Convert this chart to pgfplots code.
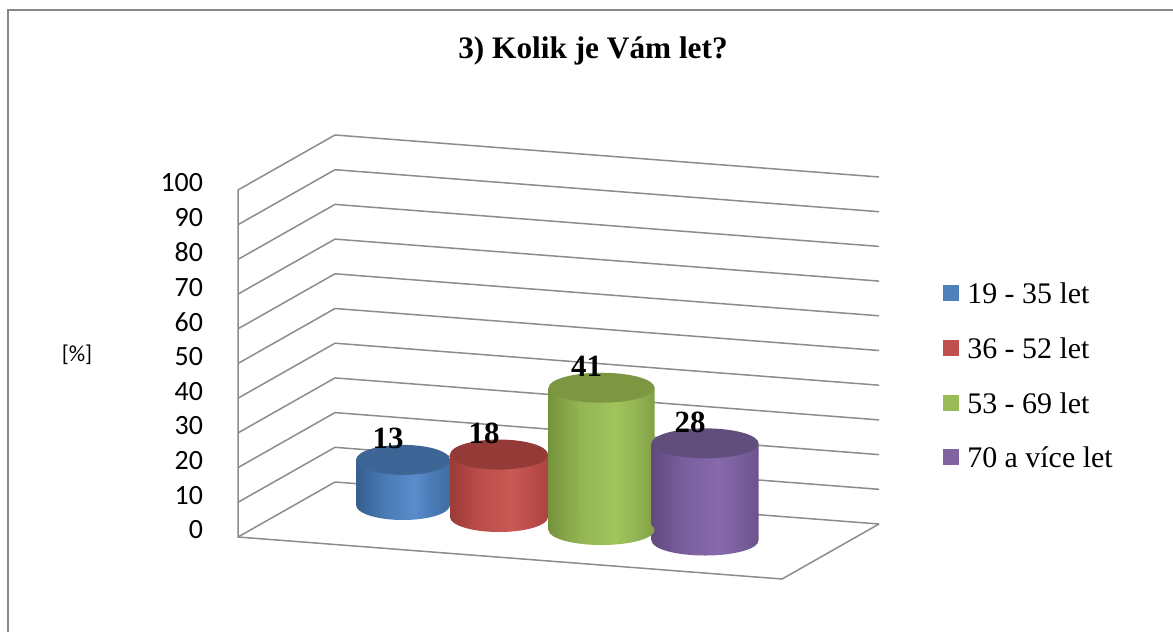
\documentclass[border=0pt]{standalone}
\usepackage{pgfplots}
\pgfplotsset{compat=1.18}
\usepackage{fontspec}
\setmainfont{Liberation Serif}
\newfontfamily\calibri{Carlito}

\definecolor{gridgray}{HTML}{8C8C8C}
\definecolor{framegray}{HTML}{878787}
% legend colours
\definecolor{cBlue}{HTML}{4F81BD}
\definecolor{cRed}{HTML}{C0504D}
\definecolor{cGreen}{HTML}{9BBB59}
\definecolor{cPurple}{HTML}{8064A2}
% cylinder shades
\definecolor{bD}{HTML}{365E8F}\definecolor{bM}{HTML}{4A7AB5}\definecolor{bL}{HTML}{5A8DCC}\definecolor{bR}{HTML}{3F6CA3}\definecolor{bT}{HTML}{3D6595}
\definecolor{rD}{HTML}{9C3B39}\definecolor{rM}{HTML}{BB4D4A}\definecolor{rL}{HTML}{CA5854}\definecolor{rR}{HTML}{AA4341}\definecolor{rT}{HTML}{943A37}
\definecolor{gD}{HTML}{76933C}\definecolor{gM}{HTML}{93B553}\definecolor{gL}{HTML}{A2C45C}\definecolor{gR}{HTML}{82A046}\definecolor{gT}{HTML}{7D9642}
\definecolor{pD}{HTML}{624A80}\definecolor{pM}{HTML}{7A5F9E}\definecolor{pL}{HTML}{8769AC}\definecolor{pR}{HTML}{6C528D}\definecolor{pT}{HTML}{624E7D}

\pgfdeclarehorizontalshading{cylblue}{100bp}{color(0bp)=(bD); color(25bp)=(bD); color(40bp)=(bM); color(56bp)=(bL); color(66bp)=(bM); color(75bp)=(bR); color(100bp)=(bR)}
\pgfdeclarehorizontalshading{cylred}{100bp}{color(0bp)=(rD); color(25bp)=(rD); color(40bp)=(rM); color(56bp)=(rL); color(66bp)=(rM); color(75bp)=(rR); color(100bp)=(rR)}
\pgfdeclarehorizontalshading{cylgreen}{100bp}{color(0bp)=(gD); color(25bp)=(gD); color(40bp)=(gM); color(56bp)=(gL); color(66bp)=(gM); color(75bp)=(gR); color(100bp)=(gR)}
\pgfdeclarehorizontalshading{cylpurple}{100bp}{color(0bp)=(pD); color(25bp)=(pD); color(40bp)=(pM); color(56bp)=(pL); color(66bp)=(pM); color(75bp)=(pR); color(100bp)=(pR)}

\newcommand\mkcylbottom[1]{\pgfdeclareplotmark{bot#1}{%
  \pgfpathellipse{\pgfpointorigin}{\pgfqpoint{\pgfplotmarksize}{0pt}}{\pgfqpoint{0pt}{7.5bp}}%
  \pgfshadepath{cyl#1}{0}\pgfusepath{discard}}}
\mkcylbottom{blue}\mkcylbottom{red}\mkcylbottom{green}\mkcylbottom{purple}
\pgfdeclareplotmark{cyltop}{%
  \pgfpathellipse{\pgfpointorigin}{\pgfqpoint{\pgfplotmarksize}{0pt}}{\pgfqpoint{0pt}{7.5bp}}%
  \pgfusepathqfill}

\begin{document}
\begin{tikzpicture}
\begin{axis}[
  x={(272bp,-21bp)}, y={(48.5bp,27.5bp)}, z={(0bp,1.735bp)},
  xmin=0, xmax=1, ymin=0, ymax=1, zmin=0, zmax=100,
  xtick=\empty, ytick=\empty, ztick={0,10,...,100},
  grid=major,
  major grid style={draw=gridgray, line width=0.75bp},
  axis line style={draw=none},
  major tick length=0pt,
  clip=false,
  /pgf/number format/assume math mode=true,
  ticklabel style={font=\calibri\fontsize{14}{14}\selectfont},
  zticklabel style={anchor=east, xshift=-14bp, yshift=3.5bp},
]
% floor front/right edges and left-front vertical edge
\draw[gridgray, line width=0.75bp] (axis cs:0,0,100) -- (axis cs:0,0,0) -- (axis cs:1,0,0) -- (axis cs:1,1,0);
\coordinate (O) at (axis cs:0,0,0);

% ---- 19 - 35 let : 13
\addplot3[only marks, mark=botblue, mark size=23.5bp] coordinates {(0.1757,0.7160,0)};
\addplot3[draw=none, shade, shading=cylblue, mark=none] coordinates {(0.0996,0.6579,0) (0.2517,0.7741,0) (0.2517,0.7741,13) (0.0996,0.6579,13)};
\addplot3[only marks, mark=cyltop, mark size=23.5bp, mark options={fill=bT, draw=none}] coordinates {(0.1757,0.7160,13)};
% ---- 36 - 52 let : 18
\addplot3[only marks, mark=botred, mark size=24.5bp] coordinates {(0.3652,0.6425,0)};
\addplot3[draw=none, shade, shading=cylred, mark=none] coordinates {(0.2859,0.5820,0) (0.4445,0.7031,0) (0.4445,0.7031,18) (0.2859,0.5820,18)};
\addplot3[only marks, mark=cyltop, mark size=24.5bp, mark options={fill=rT, draw=none}] coordinates {(0.3652,0.6425,18)};
% ---- 53 - 69 let : 41
\addplot3[only marks, mark=botgreen, mark size=26.5bp] coordinates {(0.5682,0.5611,0)};
\addplot3[draw=none, shade, shading=cylgreen, mark=none] coordinates {(0.4824,0.4956,0) (0.6539,0.6266,0) (0.6539,0.6266,41) (0.4824,0.4956,41)};
\addplot3[only marks, mark=cyltop, mark size=26.5bp, mark options={fill=gT, draw=none}] coordinates {(0.5682,0.5611,41)};
% ---- 70 a více let : 28
\addplot3[only marks, mark=botpurple, mark size=26.75bp] coordinates {(0.7656,0.5210,0)};
\addplot3[draw=none, shade, shading=cylpurple, mark=none] coordinates {(0.6790,0.4549,0) (0.8521,0.5871,0) (0.8521,0.5871,28) (0.6790,0.4549,28)};
\addplot3[only marks, mark=cyltop, mark size=26.75bp, mark options={fill=pT, draw=none}] coordinates {(0.7656,0.5210,28)};
% ---- data labels
\addplot3[draw=none, mark=none, point meta=z, nodes near coords,
  nodes near coords style={font=\bfseries\fontsize{15.5}{15.5}\selectfont, text=black, anchor=base, xshift=-7.5bp, yshift=5.5bp, inner sep=0pt}]
  coordinates {(0.1757,0.7160,13) (0.3652,0.6425,18) (0.5682,0.5611,41) (0.7656,0.5210,28)};
\end{axis}

\begin{scope}[shift={(O)}, xshift=-119bp, yshift=268.5bp, x=0.5bp, y=-0.5bp]
  \draw[framegray, line width=0.9bp] (8,660) -- (8,10) -- (1200,10);
  \node[anchor=base, font=\bfseries\fontsize{15.7}{18}\selectfont, inner sep=0pt] at (593,59) {3) Kolik je Vám let?};
  \node[font=\calibri\fontsize{11.5}{12}\selectfont, inner sep=0pt] at (77,355) {[\%]};
  \foreach \c/\t/\yy in {cBlue/{19 - 35 let}/293, cRed/{36 - 52 let}/348, cGreen/{53 - 69 let}/403, cPurple/{70 a více let}/457} {
    \fill[\c] (943,\yy-8) rectangle (959,\yy+8);
    \node[anchor=base west, inner sep=0pt, font=\fontsize{15}{18}\selectfont] at (967,\yy+11) {\t};
  }
  \pgfresetboundingbox
  \path (0,0) rectangle (1173,631);
\end{scope}
\end{tikzpicture}
\end{document}
